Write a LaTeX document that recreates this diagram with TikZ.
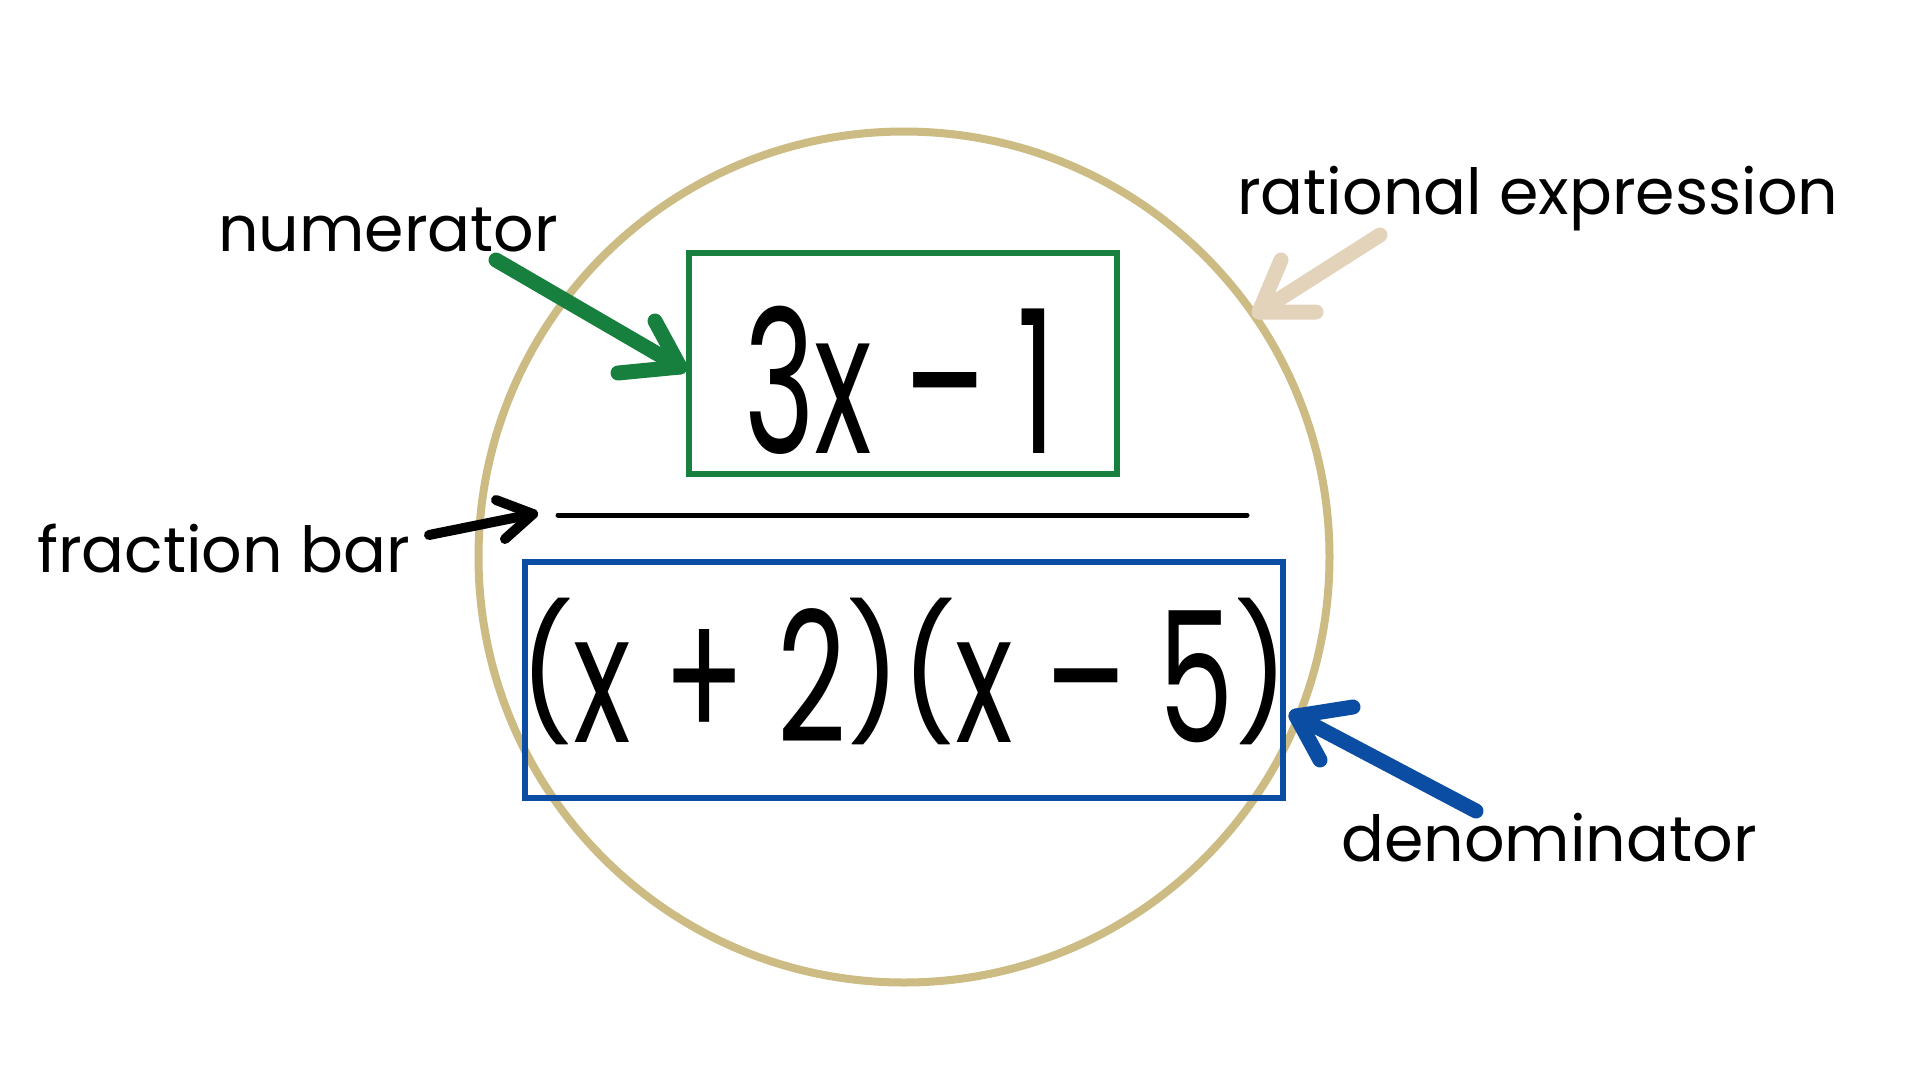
\documentclass[tikz,border=0pt]{standalone}
\usepackage{graphicx}
\usepackage{fontspec}
\setmainfont{Poppins}
\definecolor{gold}{HTML}{CDBB84}
\definecolor{numgreen}{HTML}{18803F}
\definecolor{denblue}{HTML}{0B4DA2}
\definecolor{beige}{HTML}{E2D3BA}
\newcommand{\hp}[1]{\raisebox{0.12em}{\scalebox{1}[0.72]{#1}}}
\tikzset{
  label/.style={anchor=base west, inner sep=0pt, font=\fontsize{63.5}{70}\selectfont},
  hand/.style={anchor=base, inner sep=0pt},
  box/.style={draw, line width=6pt, inner sep=0pt},
  pointer/.style={line width=15pt, line cap=round, line join=round},
}
\begin{document}
\begin{tikzpicture}[x=1pt,y=-1pt]
\useasboundingbox (0,0) rectangle (1920,1080);
% circle
\node[draw=gold, line width=8pt, circle, minimum size=851pt, inner sep=0pt] (ring) at (904,557) {};
% boxes
\node[box, draw=numgreen, minimum width=428pt, minimum height=221pt] (numbox) at (903,363.5) {};
\node[box, draw=denblue, minimum width=758pt, minimum height=236pt] (denbox) at (904,680) {};
% expressions
\node[hand, font=\fontsize{200}{200}\selectfont] (numtext) at (900,453) {\scalebox{0.6}[1]{3x – 1}};
\node[hand, font=\fontsize{182}{182}\selectfont] (dentext) at (904,742) {\scalebox{0.66}[1]{\hp{(}x + 2\hp{)}\hp{(}x – 5\hp{)}}};
% fraction bar
\coordinate (barL) at (558,515);
\coordinate (barR) at (1247,515);
\draw[line width=5pt, line cap=round] (barL) -- (barR);
% labels
\node[label] (numlab) at (218,251) {numerator};
\node[label] (ratlab) at (1237,214) {rational expression};
\node[label] (fraclab) at (37,572) {fraction bar};
\node[label] (denlab) at (1341,861) {denominator};
% green arrow
\coordinate (gT) at (496,260);
\coordinate (gP) at (680,367);
\coordinate (gA) at (618,373);
\coordinate (gB) at (655,321);
\draw[pointer, numgreen] (gT) -- (gP);
\draw[pointer, numgreen] (gA) -- (gP) -- (gB);
% beige arrow
\coordinate (rT) at (1380,235);
\coordinate (rP) at (1259,312);
\coordinate (rA) at (1281,260);
\coordinate (rB) at (1316,312);
\draw[pointer, beige] (rT) -- (rP);
\draw[pointer, beige] (rA) -- (rP) -- (rB);
% black arrow
\coordinate (fT) at (429,535);
\coordinate (fP) at (533,514);
\coordinate (fA) at (496,500);
\coordinate (fB) at (505,539);
\draw[pointer, line width=10pt, black] (fT) -- (fP);
\draw[pointer, line width=10pt, black] (fA) -- (fP) -- (fB);
% blue arrow
\coordinate (dT) at (1476,811);
\coordinate (dP) at (1296,716);
\coordinate (dA) at (1353,707);
\coordinate (dB) at (1320,760);
\draw[pointer, denblue] (dT) -- (dP);
\draw[pointer, denblue] (dA) -- (dP) -- (dB);
\end{tikzpicture}
\end{document}
